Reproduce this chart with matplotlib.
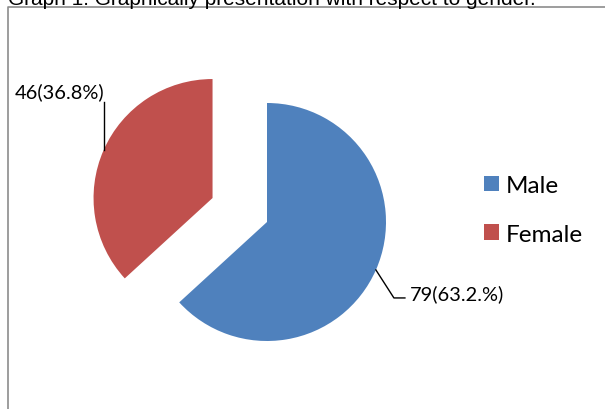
import matplotlib
matplotlib.use('Agg')
import matplotlib.pyplot as plt
from matplotlib.lines import Line2D
import numpy as np

# data
genders = ['Male', 'Female']
counts = [79, 46]
slice_labels = ['79(63.2.%)', '46(36.8%)']
colors = ['#4F81BD', '#C0504D']
explode = [0, 0.5]
title = 'Graph 1: Graphically presentation with respect to gender.'

W, H = 605, 410
fig = plt.figure(figsize=(W / 100, H / 100), dpi=100)
ax = fig.add_axes([0, 0, 1, 1])

# pie centre / radius in pixels
r_px = 119
cx, cy = 267, H - 223
wedges, _ = ax.pie(counts, colors=colors, explode=explode, startangle=90,
                   counterclock=False, radius=1)
ax.set_xlim(-cx / r_px, (W - cx) / r_px)
ax.set_ylim(-cy / r_px, (H - cy) / r_px)
ax.set_aspect('auto')
ax.axis('off')

px = 1 / r_px
lab_font = dict(family=['Lato', 'DejaVu Sans'], size=14.4)


def arc_point(w):
    mid = np.deg2rad((w.theta1 + w.theta2) / 2)
    return (w.center[0] + w.r * np.cos(mid), w.center[1] + w.r * np.sin(mid))


# Male label: leader down-right then horizontal
x0, y0 = arc_point(wedges[0])
x1, y1 = x0 + 18 * px, y0 - 28 * px
x2 = x1 + 11 * px
ax.plot([x0, x1, x2], [y0, y1, y1], color='black', lw=1)
ax.text(x2 + 5 * px, y1 - 1 * px, slice_labels[0], ha='left', va='baseline', **lab_font)

# Female label: vertical leader up
x0, y0 = arc_point(wedges[1])
y1 = y0 + 48 * px
ax.plot([x0, x0], [y0, y1], color='black', lw=1)
ax.text(x0 + 1 * px, y1 + 5 * px, slice_labels[1], ha='right', va='baseline', **lab_font)

ax.legend(wedges, genders, loc='center left', bbox_to_anchor=(484 / W, (H - 211) / H),
          bbox_transform=fig.transFigure, frameon=False, borderpad=0, borderaxespad=0,
          handlelength=0.6, handleheight=0.6, handletextpad=0.28, labelspacing=1.13,
          prop=dict(family=['Lato', 'DejaVu Sans'], size=17.5))

# chart border (only top and left visible in the crop)
fig.add_artist(Line2D([8 / W, 8 / W, 1], [0, (H - 8) / H, (H - 8) / H],
                      transform=fig.transFigure, color='#8c8c8c', lw=1.2))

fig.text(8 / W, (H - 5) / H, title, family=['Liberation Sans', 'DejaVu Sans'],
         fontsize=15, va='baseline', ha='left')

fig.savefig('out.png', dpi=100)
